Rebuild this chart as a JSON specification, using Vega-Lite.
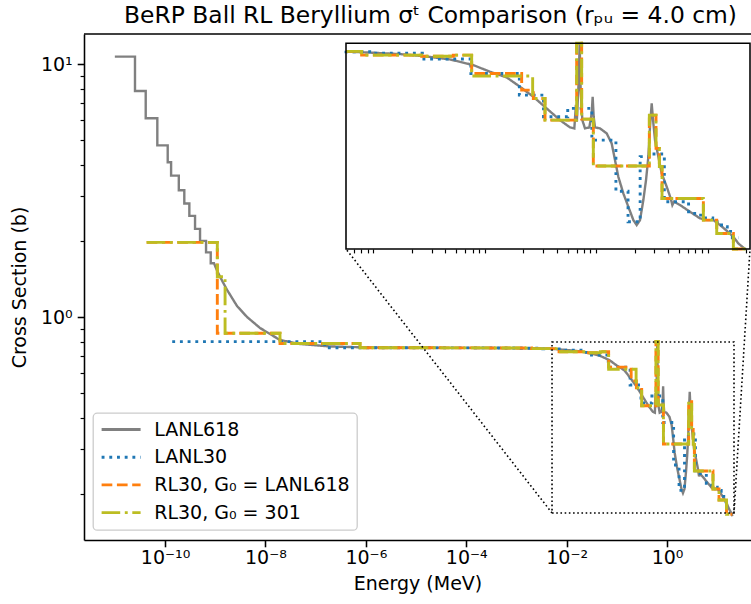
{
  "$schema": "https://vega.github.io/schema/vega-lite/v6.json",
  "width": 667,
  "height": 506,
  "autosize": {"type": "none"},
  "padding": {"left": 84, "top": 34, "right": 0, "bottom": 64},
  "background": "white",
  "title": {
    "text": "BeRP Ball RL Beryllium σᵗ Comparison (rₚᵤ = 4.0 cm)",
    "fontSize": 23.4, "fontWeight": "normal", "font": "DejaVu Sans", "color": "black",
    "anchor": "middle", "dx": 13, "offset": 5
  },
  "datasets": {
    "lanl618": [
      {"series": "LANL618", "energy": 1e-11, "xs": 10.69},
      {"series": "LANL618", "energy": 2.52e-11, "xs": 10.69},
      {"series": "LANL618", "energy": 2.52e-11, "xs": 7.82},
      {"series": "LANL618", "energy": 4.12e-11, "xs": 7.82},
      {"series": "LANL618", "energy": 4.12e-11, "xs": 6.10},
      {"series": "LANL618", "energy": 7.02e-11, "xs": 6.10},
      {"series": "LANL618", "energy": 7.02e-11, "xs": 4.77},
      {"series": "LANL618", "energy": 1.13e-10, "xs": 4.77},
      {"series": "LANL618", "energy": 1.13e-10, "xs": 4.09},
      {"series": "LANL618", "energy": 1.32e-10, "xs": 4.09},
      {"series": "LANL618", "energy": 1.32e-10, "xs": 3.62},
      {"series": "LANL618", "energy": 1.88e-10, "xs": 3.62},
      {"series": "LANL618", "energy": 1.88e-10, "xs": 3.17},
      {"series": "LANL618", "energy": 2.42e-10, "xs": 3.17},
      {"series": "LANL618", "energy": 2.42e-10, "xs": 2.81},
      {"series": "LANL618", "energy": 3.05e-10, "xs": 2.81},
      {"series": "LANL618", "energy": 3.05e-10, "xs": 2.51},
      {"series": "LANL618", "energy": 3.96e-10, "xs": 2.51},
      {"series": "LANL618", "energy": 3.96e-10, "xs": 2.23},
      {"series": "LANL618", "energy": 4.98e-10, "xs": 2.23},
      {"series": "LANL618", "energy": 4.98e-10, "xs": 2.00},
      {"series": "LANL618", "energy": 6.56e-10, "xs": 2.00},
      {"series": "LANL618", "energy": 6.56e-10, "xs": 1.80},
      {"series": "LANL618", "energy": 8.13e-10, "xs": 1.80},
      {"series": "LANL618", "energy": 8.13e-10, "xs": 1.63},
      {"series": "LANL618", "energy": 9.46e-10, "xs": 1.63},
      {"series": "LANL618", "energy": 1.05e-9, "xs": 1.55},
      {"series": "LANL618", "energy": 1.25e-9, "xs": 1.44},
      {"series": "LANL618", "energy": 1.72e-9, "xs": 1.28},
      {"series": "LANL618", "energy": 2.72e-9, "xs": 1.105},
      {"series": "LANL618", "energy": 4.3e-9, "xs": 1.0},
      {"series": "LANL618", "energy": 7.8e-9, "xs": 0.905},
      {"series": "LANL618", "energy": 1.95e-8, "xs": 0.811},
      {"series": "LANL618", "energy": 4.9e-8, "xs": 0.782},
      {"series": "LANL618", "energy": 1.94e-7, "xs": 0.765},
      {"series": "LANL618", "energy": 1e-6, "xs": 0.758},
      {"series": "LANL618", "energy": 1e-5, "xs": 0.756},
      {"series": "LANL618", "energy": 1e-4, "xs": 0.755},
      {"series": "LANL618", "energy": 1e-3, "xs": 0.753},
      {"series": "LANL618", "energy": 3e-3, "xs": 0.751},
      {"series": "LANL618", "energy": 5.19e-3, "xs": 0.748},
      {"series": "LANL618", "energy": 9.0e-3, "xs": 0.742},
      {"series": "LANL618", "energy": 0.0156, "xs": 0.7345},
      {"series": "LANL618", "energy": 0.0253, "xs": 0.7233},
      {"series": "LANL618", "energy": 0.0439, "xs": 0.7054},
      {"series": "LANL618", "energy": 0.0711, "xs": 0.6758},
      {"series": "LANL618", "energy": 0.1003, "xs": 0.6425},
      {"series": "LANL618", "energy": 0.1415, "xs": 0.6158},
      {"series": "LANL618", "energy": 0.1865, "xs": 0.5736},
      {"series": "LANL618", "energy": 0.2456, "xs": 0.5318},
      {"series": "LANL618", "energy": 0.3235, "xs": 0.4868},
      {"series": "LANL618", "energy": 0.4261, "xs": 0.4456},
      {"series": "LANL618", "energy": 0.5238, "xs": 0.4217},
      {"series": "LANL618", "energy": 0.5729, "xs": 0.4185},
      {"series": "LANL618", "energy": 0.592, "xs": 0.50},
      {"series": "LANL618", "energy": 0.603, "xs": 0.44},
      {"series": "LANL618", "energy": 0.627, "xs": 0.60},
      {"series": "LANL618", "energy": 0.6397, "xs": 0.80},
      {"series": "LANL618", "energy": 0.653, "xs": 0.559},
      {"series": "LANL618", "energy": 0.676, "xs": 0.4456},
      {"series": "LANL618", "energy": 0.7145, "xs": 0.4185},
      {"series": "LANL618", "energy": 0.7813, "xs": 0.4217},
      {"series": "LANL618", "energy": 0.82, "xs": 0.4688},
      {"series": "LANL618", "energy": 0.8368, "xs": 0.5318},
      {"series": "LANL618", "energy": 0.8545, "xs": 0.4571},
      {"series": "LANL618", "energy": 0.878, "xs": 0.4217},
      {"series": "LANL618", "energy": 0.9739, "xs": 0.4185},
      {"series": "LANL618", "energy": 1.118, "xs": 0.403},
      {"series": "LANL618", "energy": 1.2395, "xs": 0.3736},
      {"series": "LANL618", "energy": 1.328, "xs": 0.3293},
      {"series": "LANL618", "energy": 1.422, "xs": 0.2903},
      {"series": "LANL618", "energy": 1.577, "xs": 0.2559},
      {"series": "LANL618", "energy": 1.749, "xs": 0.2313},
      {"series": "LANL618", "energy": 1.94, "xs": 0.2091},
      {"series": "LANL618", "energy": 2.078, "xs": 0.2014},
      {"series": "LANL618", "energy": 2.226, "xs": 0.2091},
      {"series": "LANL618", "energy": 2.385, "xs": 0.2433},
      {"series": "LANL618", "energy": 2.52, "xs": 0.283},
      {"series": "LANL618", "energy": 2.645, "xs": 0.3377},
      {"series": "LANL618", "energy": 2.737, "xs": 0.4238},
      {"series": "LANL618", "energy": 2.833, "xs": 0.5057},
      {"series": "LANL618", "energy": 2.933, "xs": 0.4345},
      {"series": "LANL618", "energy": 3.035, "xs": 0.3832},
      {"series": "LANL618", "energy": 3.252, "xs": 0.3377},
      {"series": "LANL618", "energy": 3.483, "xs": 0.2977},
      {"series": "LANL618", "energy": 3.864, "xs": 0.2692},
      {"series": "LANL618", "energy": 4.196, "xs": 0.2464},
      {"series": "LANL618", "energy": 4.343, "xs": 0.2343},
      {"series": "LANL618", "energy": 4.495, "xs": 0.2403},
      {"series": "LANL618", "energy": 5.088, "xs": 0.2343},
      {"series": "LANL618", "energy": 6.255, "xs": 0.2227},
      {"series": "LANL618", "energy": 7.692, "xs": 0.2118},
      {"series": "LANL618", "energy": 8.83, "xs": 0.2091},
      {"series": "LANL618", "energy": 10.13, "xs": 0.2091},
      {"series": "LANL618", "energy": 11.63, "xs": 0.2014},
      {"series": "LANL618", "energy": 13.35, "xs": 0.1929},
      {"series": "LANL618", "energy": 15.32, "xs": 0.1843},
      {"series": "LANL618", "energy": 16.98, "xs": 0.1752},
      {"series": "LANL618", "energy": 19.5, "xs": 0.1666},
      {"series": "LANL618", "energy": 20.0, "xs": 0.163}
    ],
    "lanl30": [
      {"series": "LANL30", "energy": 1.39e-10, "xs": 0.799},
      {"series": "LANL30", "energy": 1.52e-7, "xs": 0.756},
      {"series": "LANL30", "energy": 4.14e-7, "xs": 0.756},
      {"series": "LANL30", "energy": 1.13e-6, "xs": 0.756},
      {"series": "LANL30", "energy": 3.06e-6, "xs": 0.756},
      {"series": "LANL30", "energy": 8.32e-6, "xs": 0.756},
      {"series": "LANL30", "energy": 2.26e-5, "xs": 0.755},
      {"series": "LANL30", "energy": 6.14e-5, "xs": 0.755},
      {"series": "LANL30", "energy": 1.67e-4, "xs": 0.755},
      {"series": "LANL30", "energy": 4.54e-4, "xs": 0.754},
      {"series": "LANL30", "energy": 1.235e-3, "xs": 0.753},
      {"series": "LANL30", "energy": 3.35e-3, "xs": 0.748},
      {"series": "LANL30", "energy": 9.12e-3, "xs": 0.7395},
      {"series": "LANL30", "energy": 0.0248, "xs": 0.7075},
      {"series": "LANL30", "energy": 0.0676, "xs": 0.634},
      {"series": "LANL30", "energy": 0.184, "xs": 0.5385},
      {"series": "LANL30", "energy": 0.303, "xs": 0.457},
      {"series": "LANL30", "energy": 0.5, "xs": 0.487},
      {"series": "LANL30", "energy": 0.823, "xs": 0.383},
      {"series": "LANL30", "energy": 1.353, "xs": 0.26},
      {"series": "LANL30", "energy": 1.738, "xs": 0.2065},
      {"series": "LANL30", "energy": 2.232, "xs": 0.338},
      {"series": "LANL30", "energy": 2.865, "xs": 0.345},
      {"series": "LANL30", "energy": 3.68, "xs": 0.2403},
      {"series": "LANL30", "energy": 6.07, "xs": 0.22},
      {"series": "LANL30", "energy": 7.79, "xs": 0.2125},
      {"series": "LANL30", "energy": 10.0, "xs": 0.2065},
      {"series": "LANL30", "energy": 12.0, "xs": 0.199},
      {"series": "LANL30", "energy": 13.5, "xs": 0.192},
      {"series": "LANL30", "energy": 15.0, "xs": 0.183},
      {"series": "LANL30", "energy": 17.0, "xs": 0.183}
    ],
    "rl618": [
      {"series": "RL30, G₀ = LANL618", "energy": 4.3e-11, "xs": 1.973},
      {"series": "RL30, G₀ = LANL618", "energy": 1.1e-9, "xs": 0.862},
      {"series": "RL30, G₀ = LANL618", "energy": 1.95e-8, "xs": 0.786},
      {"series": "RL30, G₀ = LANL618", "energy": 7.66e-7, "xs": 0.756},
      {"series": "RL30, G₀ = LANL618", "energy": 3e-6, "xs": 0.756},
      {"series": "RL30, G₀ = LANL618", "energy": 3e-5, "xs": 0.755},
      {"series": "RL30, G₀ = LANL618", "energy": 3e-4, "xs": 0.754},
      {"series": "RL30, G₀ = LANL618", "energy": 2e-3, "xs": 0.75},
      {"series": "RL30, G₀ = LANL618", "energy": 7.07e-3, "xs": 0.729},
      {"series": "RL30, G₀ = LANL618", "energy": 0.02443, "xs": 0.7225},
      {"series": "RL30, G₀ = LANL618", "energy": 0.04699, "xs": 0.729},
      {"series": "RL30, G₀ = LANL618", "energy": 0.0687, "xs": 0.634},
      {"series": "RL30, G₀ = LANL618", "energy": 0.193, "xs": 0.559},
      {"series": "RL30, G₀ = LANL618", "energy": 0.2456, "xs": 0.525},
      {"series": "RL30, G₀ = LANL618", "energy": 0.3126, "xs": 0.4456},
      {"series": "RL30, G₀ = LANL618", "energy": 0.6012, "xs": 0.80},
      {"series": "RL30, G₀ = LANL618", "energy": 0.6667, "xs": 0.449},
      {"series": "RL30, G₀ = LANL618", "energy": 0.8484, "xs": 0.3148},
      {"series": "RL30, G₀ = LANL618", "energy": 2.699, "xs": 0.4628},
      {"series": "RL30, G₀ = LANL618", "energy": 3.098, "xs": 0.3597},
      {"series": "RL30, G₀ = LANL618", "energy": 3.319, "xs": 0.3137},
      {"series": "RL30, G₀ = LANL618", "energy": 3.508, "xs": 0.2463},
      {"series": "RL30, G₀ = LANL618", "energy": 8.241, "xs": 0.2091},
      {"series": "RL30, G₀ = LANL618", "energy": 10.86, "xs": 0.189},
      {"series": "RL30, G₀ = LANL618", "energy": 15.32, "xs": 0.166},
      {"series": "RL30, G₀ = LANL618", "energy": 20.0, "xs": 0.166}
    ],
    "rl301": [
      {"series": "RL30, G₀ = 301", "energy": 4.3e-11, "xs": 1.973},
      {"series": "RL30, G₀ = 301", "energy": 1.1e-9, "xs": 1.443},
      {"series": "RL30, G₀ = 301", "energy": 1.57e-9, "xs": 0.862},
      {"series": "RL30, G₀ = 301", "energy": 1.95e-8, "xs": 0.786},
      {"series": "RL30, G₀ = 301", "energy": 7.66e-7, "xs": 0.756},
      {"series": "RL30, G₀ = 301", "energy": 3e-6, "xs": 0.756},
      {"series": "RL30, G₀ = 301", "energy": 3e-5, "xs": 0.755},
      {"series": "RL30, G₀ = 301", "energy": 3e-4, "xs": 0.754},
      {"series": "RL30, G₀ = 301", "energy": 2e-3, "xs": 0.75},
      {"series": "RL30, G₀ = 301", "energy": 7.07e-3, "xs": 0.729},
      {"series": "RL30, G₀ = 301", "energy": 0.02443, "xs": 0.7225},
      {"series": "RL30, G₀ = 301", "energy": 0.04699, "xs": 0.729},
      {"series": "RL30, G₀ = 301", "energy": 0.0687, "xs": 0.622},
      {"series": "RL30, G₀ = 301", "energy": 0.2422, "xs": 0.525},
      {"series": "RL30, G₀ = 301", "energy": 0.3126, "xs": 0.4456},
      {"series": "RL30, G₀ = 301", "energy": 0.6012, "xs": 0.80},
      {"series": "RL30, G₀ = 301", "energy": 0.6667, "xs": 0.449},
      {"series": "RL30, G₀ = 301", "energy": 0.8484, "xs": 0.3148},
      {"series": "RL30, G₀ = 301", "energy": 2.699, "xs": 0.4628},
      {"series": "RL30, G₀ = 301", "energy": 3.098, "xs": 0.3597},
      {"series": "RL30, G₀ = 301", "energy": 3.319, "xs": 0.3137},
      {"series": "RL30, G₀ = 301", "energy": 3.508, "xs": 0.2463},
      {"series": "RL30, G₀ = 301", "energy": 8.241, "xs": 0.2091},
      {"series": "RL30, G₀ = 301", "energy": 10.86, "xs": 0.189},
      {"series": "RL30, G₀ = 301", "energy": 15.32, "xs": 0.166},
      {"series": "RL30, G₀ = 301", "energy": 20.0, "xs": 0.166}
    ]
  },
  "layer": [
    {
      "layer": [
        {
          "data": {"name": "lanl618"},
          "mark": {"type": "line", "strokeWidth": 2.4, "interpolate": "linear"},
          "encoding": {
            "x": {"field": "energy", "type": "quantitative",
              "scale": {"type": "log", "domain": [2.43e-12, 47.1], "nice": false},
              "axis": {
                "values": [1e-10, 1e-8, 1e-6, 1e-4, 0.01, 1],
                "labelExpr": "round(log(datum.value)/LN10) == -10 ? '10⁻¹⁰' : round(log(datum.value)/LN10) == -8 ? '10⁻⁸' : round(log(datum.value)/LN10) == -6 ? '10⁻⁶' : round(log(datum.value)/LN10) == -4 ? '10⁻⁴' : round(log(datum.value)/LN10) == -2 ? '10⁻²' : '10⁰'",
                "tickSize": 6.8, "labelPadding": 2, "title": "Energy (MeV)", "titlePadding": 7,
                "labelFlush": false, "labelOverlap": false
              }},
            "y": {"field": "xs", "type": "quantitative",
              "scale": {"type": "log", "domain": [0.1314, 13.14], "nice": false},
              "axis": {
                "values": [0.2, 0.3, 0.4, 0.5, 0.6, 0.7, 0.8, 0.9, 1, 2, 3, 4, 5, 6, 7, 8, 9, 10],
                "labelExpr": "datum.value == 1 ? '10⁰' : datum.value == 10 ? '10¹' : ''",
                "tickSize": {"condition": {"test": "datum.value == 1 || datum.value == 10", "value": 6.8}, "value": 3.9},
                "tickWidth": {"condition": {"test": "datum.value == 1 || datum.value == 10", "value": 1.55}, "value": 1.17},
                "labelPadding": 5, "title": "Cross Section (b)", "titlePadding": 11,
                "labelOverlap": false
              }},
            "color": {"field": "series", "type": "nominal",
              "scale": {"domain": ["LANL618", "LANL30", "RL30, G₀ = LANL618", "RL30, G₀ = 301"], "range": ["#808080", "#1f77b4", "#ff7f0e", "#bcbd22"]},
              "legend": {"title": null}},
            "strokeDash": {"field": "series", "type": "nominal",
              "scale": {"domain": ["LANL618", "LANL30", "RL30, G₀ = LANL618", "RL30, G₀ = 301"], "range": [[1, 0], [2.9, 4.8], [10.7, 4.6], [18.6, 4.6, 2.9, 4.6]]},
              "legend": {"title": null}},
            "order": {"value": null}
          }
        },
        {
          "data": {"name": "lanl30"},
          "mark": {"type": "line", "strokeWidth": 2.9, "interpolate": "step-after"},
          "encoding": {
            "x": {"field": "energy", "type": "quantitative", "scale": {"type": "log", "domain": [2.43e-12, 47.1], "nice": false}},
            "y": {"field": "xs", "type": "quantitative", "scale": {"type": "log", "domain": [0.1314, 13.14], "nice": false}},
            "color": {"field": "series", "type": "nominal", "scale": {"domain": ["LANL618", "LANL30", "RL30, G₀ = LANL618", "RL30, G₀ = 301"], "range": ["#808080", "#1f77b4", "#ff7f0e", "#bcbd22"]}, "legend": {"title": null}},
            "strokeDash": {"field": "series", "type": "nominal", "scale": {"domain": ["LANL618", "LANL30", "RL30, G₀ = LANL618", "RL30, G₀ = 301"], "range": [[1, 0], [2.9, 4.8], [10.7, 4.6], [18.6, 4.6, 2.9, 4.6]]}, "legend": {"title": null}}
          }
        },
        {
          "data": {"name": "rl618"},
          "mark": {"type": "line", "strokeWidth": 2.9, "interpolate": "step-after"},
          "encoding": {
            "x": {"field": "energy", "type": "quantitative", "scale": {"type": "log", "domain": [2.43e-12, 47.1], "nice": false}},
            "y": {"field": "xs", "type": "quantitative", "scale": {"type": "log", "domain": [0.1314, 13.14], "nice": false}},
            "color": {"field": "series", "type": "nominal", "scale": {"domain": ["LANL618", "LANL30", "RL30, G₀ = LANL618", "RL30, G₀ = 301"], "range": ["#808080", "#1f77b4", "#ff7f0e", "#bcbd22"]}, "legend": {"title": null}},
            "strokeDash": {"field": "series", "type": "nominal", "scale": {"domain": ["LANL618", "LANL30", "RL30, G₀ = LANL618", "RL30, G₀ = 301"], "range": [[1, 0], [2.9, 4.8], [10.7, 4.6], [18.6, 4.6, 2.9, 4.6]]}, "legend": {"title": null}}
          }
        },
        {
          "data": {"name": "rl301"},
          "mark": {"type": "line", "strokeWidth": 2.9, "interpolate": "step-after"},
          "encoding": {
            "x": {"field": "energy", "type": "quantitative", "scale": {"type": "log", "domain": [2.43e-12, 47.1], "nice": false}},
            "y": {"field": "xs", "type": "quantitative", "scale": {"type": "log", "domain": [0.1314, 13.14], "nice": false}},
            "color": {"field": "series", "type": "nominal", "scale": {"domain": ["LANL618", "LANL30", "RL30, G₀ = LANL618", "RL30, G₀ = 301"], "range": ["#808080", "#1f77b4", "#ff7f0e", "#bcbd22"]}, "legend": {"title": null}},
            "strokeDash": {"field": "series", "type": "nominal", "scale": {"domain": ["LANL618", "LANL30", "RL30, G₀ = LANL618", "RL30, G₀ = 301"], "range": [[1, 0], [2.9, 4.8], [10.7, 4.6], [18.6, 4.6, 2.9, 4.6]]}, "legend": {"title": null}}
          }
        },
        {
          "data": {"values": [{}]},
          "mark": {"type": "rect", "filled": false, "stroke": "black", "strokeWidth": 1.6, "strokeDash": [1.6, 2.6]},
          "encoding": {
            "x": {"datum": 0.00512, "type": "quantitative", "scale": {"type": "log", "domain": [2.43e-12, 47.1], "nice": false}},
            "x2": {"datum": 21.6},
            "y": {"datum": 0.168, "type": "quantitative", "scale": {"type": "log", "domain": [0.1314, 13.14], "nice": false}},
            "y2": {"datum": 0.797}
          }
        },
        {
          "data": {"values": [{}]},
          "mark": {"type": "rule", "stroke": "black", "strokeWidth": 1.6, "strokeDash": [1.6, 2.6]},
          "encoding": {
            "x": {"datum": 0.00512, "type": "quantitative", "scale": {"type": "log", "domain": [2.43e-12, 47.1], "nice": false}},
            "x2": {"datum": 4.03e-7},
            "y": {"datum": 0.168, "type": "quantitative", "scale": {"type": "log", "domain": [0.1314, 13.14], "nice": false}},
            "y2": {"datum": 1.857}
          }
        },
        {
          "data": {"values": [{}]},
          "mark": {"type": "rule", "stroke": "black", "strokeWidth": 1.6, "strokeDash": [1.6, 2.6]},
          "encoding": {
            "x": {"datum": 21.6, "type": "quantitative", "scale": {"type": "log", "domain": [2.43e-12, 47.1], "nice": false}},
            "x2": {"datum": 45.0},
            "y": {"datum": 0.168, "type": "quantitative", "scale": {"type": "log", "domain": [0.1314, 13.14], "nice": false}},
            "y2": {"datum": 1.857}
          }
        },
        {
          "data": {"values": [{}]},
          "mark": {"type": "rule", "stroke": "black", "strokeWidth": 1.55},
          "encoding": {
            "x": {"datum": 2.43e-12, "type": "quantitative", "scale": {"type": "log", "domain": [2.43e-12, 47.1], "nice": false}},
            "x2": {"datum": 47.1},
            "y": {"datum": 13.14, "type": "quantitative", "scale": {"type": "log", "domain": [0.1314, 13.14], "nice": false}}
          }
        }
      ]
    },
    {
      "layer": [
        {
          "data": {"values": [{}]},
          "mark": {"type": "rect", "fill": "white", "strokeWidth": 0},
          "encoding": {
            "x": {"datum": 0.00512, "type": "quantitative", "scale": {"type": "log", "domain": [0.00512, 21.6], "nice": false, "range": [262, 666], "clamp": true}},
            "x2": {"datum": 21.6},
            "y": {"datum": 0.168, "type": "quantitative", "scale": {"type": "log", "domain": [0.168, 0.797], "nice": false, "range": [215, 9.3], "clamp": true}, "axis": null},
            "y2": {"datum": 0.797}
          }
        },
        {
          "data": {"name": "lanl618"},
          "transform": [{"filter": "datum.energy >= 0.003"}],
          "mark": {"type": "line", "strokeWidth": 2.4, "interpolate": "linear"},
          "encoding": {
            "x": {"field": "energy", "type": "quantitative", "scale": {"type": "log", "domain": [0.00512, 21.6], "nice": false, "range": [262, 666], "clamp": true}},
            "y": {"field": "xs", "type": "quantitative", "scale": {"type": "log", "domain": [0.168, 0.797], "nice": false, "range": [215, 9.3], "clamp": true}, "axis": null},
            "color": {"field": "series", "type": "nominal", "scale": {"domain": ["LANL618", "LANL30", "RL30, G₀ = LANL618", "RL30, G₀ = 301"], "range": ["#808080", "#1f77b4", "#ff7f0e", "#bcbd22"]}, "legend": {"title": null}},
            "strokeDash": {"field": "series", "type": "nominal", "scale": {"domain": ["LANL618", "LANL30", "RL30, G₀ = LANL618", "RL30, G₀ = 301"], "range": [[1, 0], [2.9, 4.8], [10.7, 4.6], [18.6, 4.6, 2.9, 4.6]]}, "legend": {"title": null}},
            "order": {"value": null}
          }
        },
        {
          "data": {"name": "lanl30"},
          "transform": [{"filter": "datum.energy >= 0.001"}],
          "mark": {"type": "line", "strokeWidth": 2.9, "interpolate": "step-after"},
          "encoding": {
            "x": {"field": "energy", "type": "quantitative", "scale": {"type": "log", "domain": [0.00512, 21.6], "nice": false, "range": [262, 666], "clamp": true}},
            "y": {"field": "xs", "type": "quantitative", "scale": {"type": "log", "domain": [0.168, 0.797], "nice": false, "range": [215, 9.3], "clamp": true}, "axis": null},
            "color": {"field": "series", "type": "nominal", "scale": {"domain": ["LANL618", "LANL30", "RL30, G₀ = LANL618", "RL30, G₀ = 301"], "range": ["#808080", "#1f77b4", "#ff7f0e", "#bcbd22"]}, "legend": {"title": null}},
            "strokeDash": {"field": "series", "type": "nominal", "scale": {"domain": ["LANL618", "LANL30", "RL30, G₀ = LANL618", "RL30, G₀ = 301"], "range": [[1, 0], [2.9, 4.8], [10.7, 4.6], [18.6, 4.6, 2.9, 4.6]]}, "legend": {"title": null}}
          }
        },
        {
          "data": {"name": "rl618"},
          "transform": [{"filter": "datum.energy >= 0.001"}],
          "mark": {"type": "line", "strokeWidth": 2.9, "interpolate": "step-after"},
          "encoding": {
            "x": {"field": "energy", "type": "quantitative", "scale": {"type": "log", "domain": [0.00512, 21.6], "nice": false, "range": [262, 666], "clamp": true}},
            "y": {"field": "xs", "type": "quantitative", "scale": {"type": "log", "domain": [0.168, 0.797], "nice": false, "range": [215, 9.3], "clamp": true}, "axis": null},
            "color": {"field": "series", "type": "nominal", "scale": {"domain": ["LANL618", "LANL30", "RL30, G₀ = LANL618", "RL30, G₀ = 301"], "range": ["#808080", "#1f77b4", "#ff7f0e", "#bcbd22"]}, "legend": {"title": null}},
            "strokeDash": {"field": "series", "type": "nominal", "scale": {"domain": ["LANL618", "LANL30", "RL30, G₀ = LANL618", "RL30, G₀ = 301"], "range": [[1, 0], [2.9, 4.8], [10.7, 4.6], [18.6, 4.6, 2.9, 4.6]]}, "legend": {"title": null}}
          }
        },
        {
          "data": {"name": "rl301"},
          "transform": [{"filter": "datum.energy >= 0.001"}],
          "mark": {"type": "line", "strokeWidth": 2.9, "interpolate": "step-after"},
          "encoding": {
            "x": {"field": "energy", "type": "quantitative", "scale": {"type": "log", "domain": [0.00512, 21.6], "nice": false, "range": [262, 666], "clamp": true}},
            "y": {"field": "xs", "type": "quantitative", "scale": {"type": "log", "domain": [0.168, 0.797], "nice": false, "range": [215, 9.3], "clamp": true}, "axis": null},
            "color": {"field": "series", "type": "nominal", "scale": {"domain": ["LANL618", "LANL30", "RL30, G₀ = LANL618", "RL30, G₀ = 301"], "range": ["#808080", "#1f77b4", "#ff7f0e", "#bcbd22"]}, "legend": {"title": null}},
            "strokeDash": {"field": "series", "type": "nominal", "scale": {"domain": ["LANL618", "LANL30", "RL30, G₀ = LANL618", "RL30, G₀ = 301"], "range": [[1, 0], [2.9, 4.8], [10.7, 4.6], [18.6, 4.6, 2.9, 4.6]]}, "legend": {"title": null}}
          }
        },
        {
          "data": {"values": [{}]},
          "mark": {"type": "rect", "filled": false, "stroke": "black", "strokeWidth": 1.55},
          "encoding": {
            "x": {"datum": 0.00512, "type": "quantitative", "scale": {"type": "log", "domain": [0.00512, 21.6], "nice": false, "range": [262, 666], "clamp": true},
              "axis": {
                "orient": "bottom", "offset": -291, "title": null, "labels": false, "domain": false, "grid": false,
                "tickSize": 3.9, "tickWidth": 1.17,
                "values": [0.006, 0.007, 0.008, 0.009, 0.02, 0.03, 0.04, 0.05, 0.06, 0.07, 0.08, 0.09, 0.2, 0.3, 0.4, 0.5, 0.6, 0.7, 0.8, 0.9, 2, 3, 4, 5, 6, 7, 8, 9, 20]
              }},
            "x2": {"datum": 21.6},
            "y": {"datum": 0.168, "type": "quantitative", "scale": {"type": "log", "domain": [0.168, 0.797], "nice": false, "range": [215, 9.3], "clamp": true}, "axis": null},
            "y2": {"datum": 0.797}
          }
        }
      ]
    }
  ],
  "resolve": {
    "scale": {"x": "independent", "y": "independent"},
    "axis": {"x": "independent", "y": "independent"}
  },
  "config": {
    "font": "DejaVu Sans",
    "view": {"stroke": null},
    "axis": {
      "grid": false,
      "domainColor": "black", "domainWidth": 1.55,
      "tickColor": "black", "tickWidth": 1.55,
      "labelColor": "black", "titleColor": "black",
      "labelFont": "DejaVu Sans", "titleFont": "DejaVu Sans",
      "labelFontSize": 19, "titleFontSize": 19, "titleFontWeight": "normal"
    },
    "legend": {
      "orient": "none", "legendX": 9, "legendY": 379,
      "symbolType": "M-4,0H4", "symbolSize": 95, "symbolStrokeWidth": 2.9, "symbolOffset": 11.6,
      "labelFont": "DejaVu Sans", "labelFontSize": 19, "labelColor": "black", "labelOffset": 23.6, "labelLimit": 400,
      "padding": 7, "rowPadding": 7.7,
      "strokeColor": "#cccccc", "strokeWidth": 1.3, "fillColor": "rgba(255,255,255,0.8)", "cornerRadius": 4
    }
  }
}
